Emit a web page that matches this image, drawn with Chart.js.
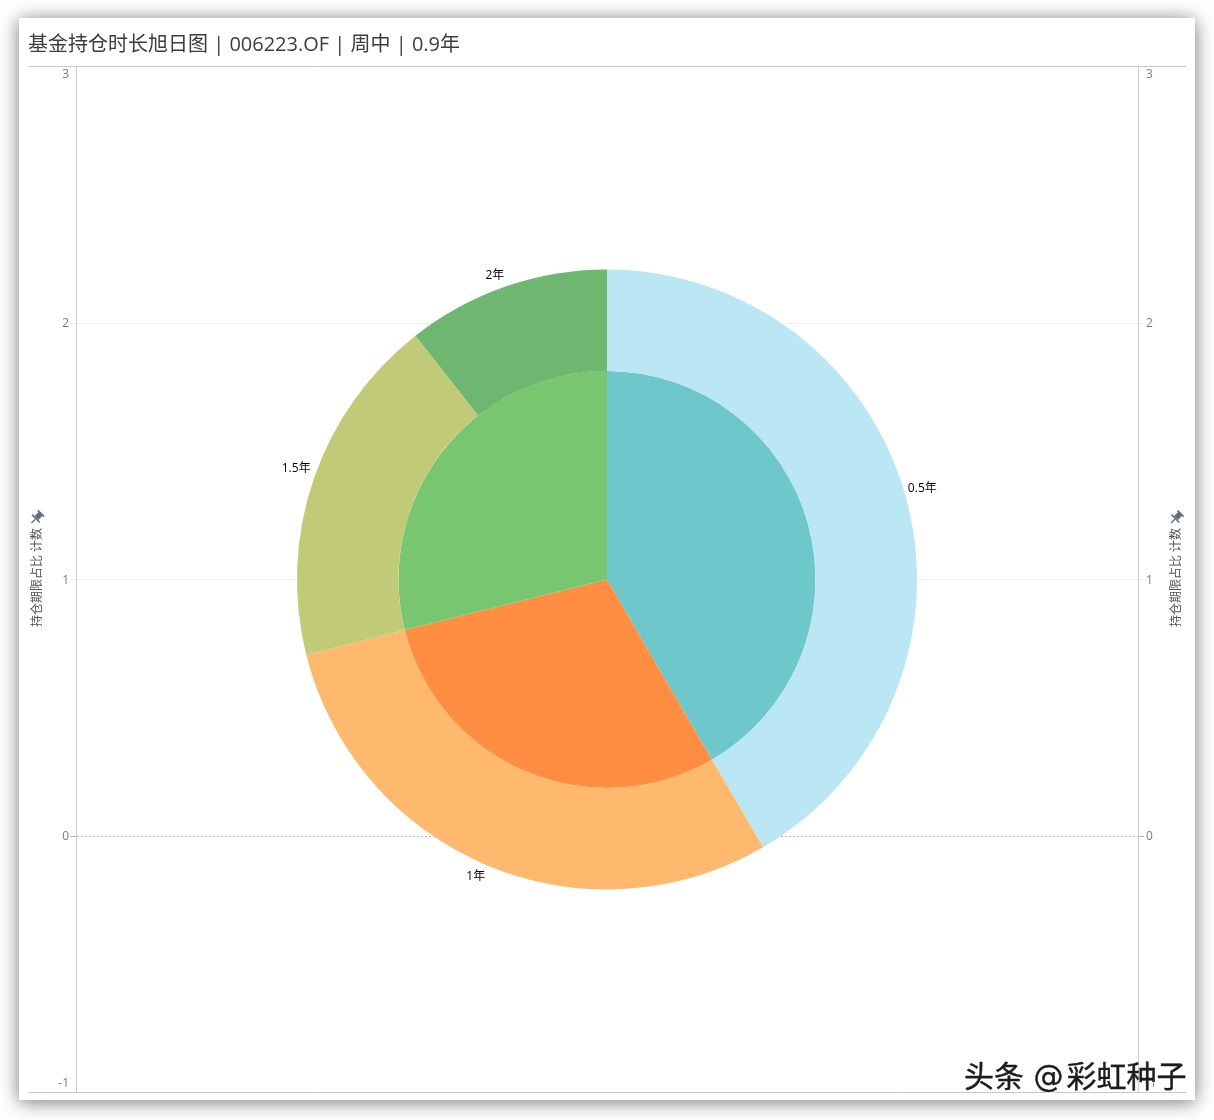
<!DOCTYPE html>
<html>
<head>
<meta charset="utf-8">
<title>基金持仓时长旭日图</title>
<script src="https://cdn.jsdelivr.net/npm/chart.js@4"></script>
<style>
  html, body { margin: 0; padding: 0; background: #fff; overflow: hidden; }
  #page { position: relative; width: 1214px; height: 1120px; }
  #card {
    position: absolute; left: 19px; top: 18px; width: 1176px; height: 1082px;
    background: #fff; box-shadow: 0 2px 18px rgba(0, 0, 0, .55);
  }
  #donut { position: absolute; left: 0; top: 0; }
  #mark {
    position: absolute; left: 964px; top: 1055px; white-space: nowrap;
    font: 30px/44px "DejaVu Sans", "Noto Sans CJK SC", sans-serif; color: #1c1c1c;
    -webkit-text-stroke: .4px #1c1c1c;
    text-shadow: 1px 1px 0 #fff;
  }
  #mark span { margin-right: 3px; }
</style>
</head>
<body>
<div id="page">
  <div id="card"></div>
  <canvas id="donut" width="1214" height="1120"></canvas>
  <div id="mark">头条 <span>@</span>彩虹种子</div>
</div>
<script>
const chartTitle = '基金持仓时长旭日图 | 006223.OF | 周中 | 0.9年';
const axisTitle = '持仓期限占比 计数';

// 外圈: 持仓期限
const outerLabels = ['0.5年', '1年', '1.5年', '2年'];
const outerValues = [41.6, 29.5, 18.3, 10.6];
const outerColors = ['#bbe6f3', '#ffb96f', '#c1ca77', '#6fb670'];

// 内圈
const innerLabels = ['0.5年', '1年', '1.5年以上'];
const innerValues = [41.6, 29.5, 28.9];
const innerColors = ['#6dc7cb', '#ff8e42', '#79c671'];

const axisMin = -1;
const axisMax = 3;

const tickFont = { family: '"Open Sans", sans-serif', size: 12 };
const cjkFont = '12px "Open Sans", "Noto Sans CJK SC", sans-serif';

// 标签相对扇区中线的微调
const labelNudge = [[-3, -5], [-5, -2], [1, -4], [-6, 3]];

function axisOptions(position, width, showGrid) {
  return {
    type: 'linear',
    position: position,
    min: axisMin,
    max: axisMax,
    afterFit: s => { s.width = width; },
    ticks: { stepSize: 1, color: '#7c7c7c', font: tickFont, padding: position === 'right' ? 2 : 1 },
    border: {
      color: '#ccc',
      dash: c => (c.tick && c.tick.value === 0 ? [2, 2] : [])
    },
    grid: {
      drawOnChartArea: showGrid,
      tickLength: 6,
      color: c => {
        if (c.tick.value === axisMin || c.tick.value === axisMax) return 'rgba(0,0,0,0)';
        return c.tick.value === 0 ? '#b5b5b5' : '#f0f0f0';
      }
    }
  };
}

// 3 和 -1 的刻度文字要缩进到绘图区内
const tickClamp = {
  id: 'tickClamp',
  beforeDraw(chart) {
    ['y', 'y2'].forEach(id => {
      const s = chart.scales[id];
      s.getLabelItems(chart.chartArea).forEach(item => {
        const t = item.options.translation;
        t[1] = Math.min(Math.max(t[1] + 1, s.top + 8), s.bottom - 9);
      });
    });
  }
};

// 外圈标签,上下边框,竖排轴标题
const decorations = {
  id: 'decorations',
  afterDraw(chart) {
    const ctx = chart.ctx;
    const y = chart.scales.y;

    ctx.save();
    ctx.strokeStyle = '#c8c8c8';
    ctx.lineWidth = 1;
    [axisMin, axisMax].forEach(v => {
      const py = Math.round(y.getPixelForValue(v)) - 0.5;
      ctx.beginPath();
      ctx.moveTo(28, py);
      ctx.lineTo(1186, py);
      ctx.stroke();
    });

    ctx.font = cjkFont;
    ctx.fillStyle = '#000';
    ctx.textAlign = 'center';
    ctx.textBaseline = 'middle';
    chart.getDatasetMeta(0).data.forEach((arc, i) => {
      const mid = (arc.startAngle + arc.endAngle) / 2;
      const r = arc.outerRadius + 12 + 8 * Math.abs(Math.cos(mid));
      ctx.fillText(outerLabels[i],
        arc.x + Math.cos(mid) * r + labelNudge[i][0],
        arc.y + Math.sin(mid) * r + labelNudge[i][1]);
    });

    [37.5, 1177].forEach(x => {
      ctx.save();
      ctx.translate(x, 577.5);
      ctx.rotate(-Math.PI / 2);
      ctx.fillStyle = '#555';
      ctx.fillText(axisTitle, 0, 0);
      ctx.restore();

      // 图钉
      ctx.save();
      ctx.translate(x - 1, 518);
      ctx.rotate(Math.PI / 4);
      ctx.scale(1.1, 1.1);
      ctx.fillStyle = '#5f7080';
      ctx.fillRect(-2.5, -6, 5, 6);
      ctx.fillRect(-4, -6.5, 8, 1.5);
      ctx.fillRect(-5, 0, 10, 1.5);
      ctx.fillRect(-0.6, 1.5, 1.2, 5);
      ctx.restore();
    });
    ctx.restore();
  }
};

new Chart(document.getElementById('donut').getContext('2d'), {
  type: 'doughnut',
  data: {
    labels: outerLabels,
    datasets: [
      { label: '外圈', data: outerValues, backgroundColor: outerColors, borderWidth: 0, weight: 101.5 },
      { label: '内圈', data: innerValues, backgroundColor: innerColors, borderWidth: 0, weight: 208.5 }
    ]
  },
  options: {
    responsive: false,
    animation: false,
    devicePixelRatio: 1,
    cutout: 0,
    radius: 310,
    layout: { padding: { left: 28, right: 28, top: 18, bottom: 27.5 } },
    scales: {
      y: axisOptions('left', 48, true),
      y2: axisOptions('right', 48, false)
    },
    plugins: {
      legend: { display: false },
      tooltip: { enabled: false },
      title: {
        display: true,
        text: chartTitle,
        align: 'start',
        color: '#3c3c3c',
        padding: { top: 15, bottom: 9.5 },
        font: { family: '"Open Sans", "Noto Sans CJK SC", sans-serif', size: 20, weight: 'normal' }
      }
    }
  },
  plugins: [tickClamp, decorations]
});
</script>
</body>
</html>
